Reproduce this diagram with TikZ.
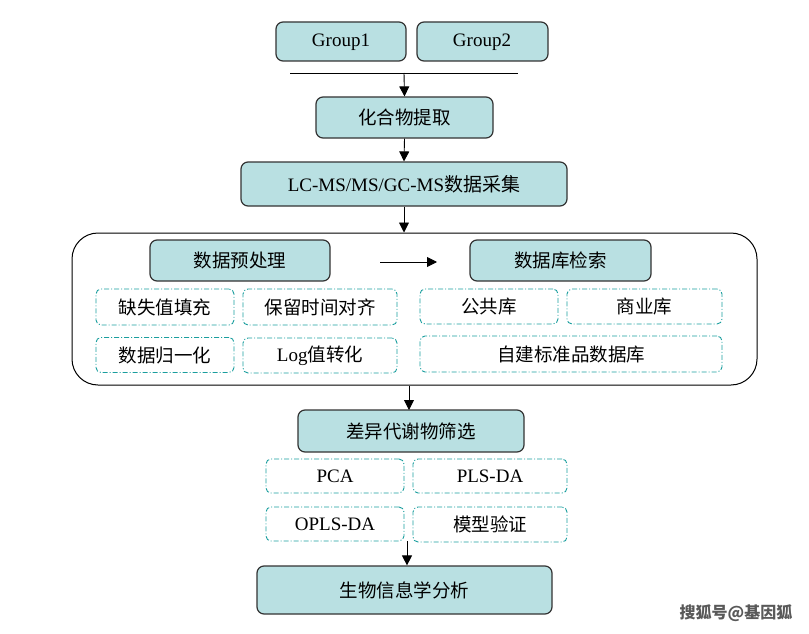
\documentclass[tikz,border=0pt]{standalone}
\usepackage{fontspec}
\setmainfont{Liberation Serif}
\newfontfamily\cjk{Noto Sans CJK SC}
\usetikzlibrary{arrows.meta}
\definecolor{boxfill}{HTML}{B9E0E2}
\definecolor{boxline}{HTML}{333333}
\definecolor{dashc}{HTML}{1A9E9E}
\tikzset{
  mainbox/.style={draw=boxline, line width=1.2pt, fill=boxfill, rounded corners=7pt, inner sep=0pt},
  subbox/.style={draw=dashc, line width=0.9pt, dash pattern=on 5pt off 2pt on 1pt off 2pt, rounded corners=5pt, inner sep=0pt},
  txt/.style={font=\fontsize{18.5}{21}\selectfont\cjk},
  ltxt/.style={font=\fontsize{19}{22}\selectfont},
  arr/.style={-{Triangle[length=10pt,width=10pt]}, line width=0.9pt, black},
}
\begin{document}
\begin{tikzpicture}[x=1pt,y=-1pt]
\useasboundingbox (0,0) rectangle (809,634);
% top groups
\draw[mainbox] (276,22) rectangle (406,61);
\node[ltxt] (g1) at (341,42) {Group1};
\draw[mainbox] (417,22) rectangle (548,61);
\node[ltxt] (g2) at (482,42) {Group2};
\coordinate (hl) at (290,73);
\coordinate (hr) at (518,73);
\coordinate (hm) at (404,73);
\draw[line width=0.9pt] (hl) -- (hr);
% extraction
\node[mainbox, minimum width=177pt, minimum height=41pt] (ext) at (404.5,117.5) {};
\node[txt] at (ext) {化合物提取};
\draw[arr] (hm) -- (ext.north);
% LC-MS
\node[mainbox, minimum width=326pt, minimum height=44pt] (lc) at (404,184) {};
\node[ltxt] at (lc) {LC-MS/MS/GC-MS{\cjk 数据采集}};
\draw[arr] (ext.south) -- (lc.north);
% big container
\node[draw=black, line width=1pt, rounded corners=26pt, minimum width=685pt, minimum height=152pt, inner sep=0pt] (big) at (414.5,309) {};
\draw[arr] (lc.south) -- (lc.south |- big.north);
% preprocessing
\node[mainbox, minimum width=180pt, minimum height=41pt] (pre) at (240,260.5) {};
\node[txt] at (pre) {数据预处理};
\node[mainbox, minimum width=181pt, minimum height=41pt] (db) at (560.5,260.5) {};
\node[txt] at (db) {数据库检索};
\coordinate (a1) at (380,262);
\coordinate (a2) at (437,262);
\draw[arr] (a1) -- (a2);
% preprocessing sub boxes
\node[subbox, minimum width=138pt, minimum height=36pt] (s1) at (165,307) {};
\node[txt] at (s1) {缺失值填充};
\node[subbox, minimum width=154pt, minimum height=36pt] (s2) at (320,307) {};
\node[txt] at (s2) {保留时间对齐};
\node[subbox, minimum width=138pt, minimum height=35pt] (s3) at (165,355) {};
\node[txt] at (s3) {数据归一化};
\node[subbox, minimum width=154pt, minimum height=35pt] (s4) at (320,355.5) {};
\node[ltxt] at (s4) {Log{\cjk\fontsize{18.5}{21}\selectfont 值转化}};
% database sub boxes
\node[subbox, minimum width=138pt, minimum height=35pt] (d1) at (489,306.5) {};
\node[txt] at (d1) {公共库};
\node[subbox, minimum width=155pt, minimum height=35pt] (d2) at (644.5,306.5) {};
\node[txt] at (d2) {商业库};
\node[subbox, minimum width=302pt, minimum height=36pt] (d3) at (571,354) {};
\node[txt] at (d3) {自建标准品数据库};
% differential screening
\node[mainbox, minimum width=226pt, minimum height=42pt] (diff) at (411,431) {};
\node[txt] at (diff) {差异代谢物筛选};
\draw[arr] (big.south -| 409,0) -- (409,410);
% stats sub boxes
\node[subbox, minimum width=138pt, minimum height=34pt] (p1) at (335,476) {};
\node[ltxt] at (p1) {PCA};
\node[subbox, minimum width=154pt, minimum height=34pt] (p2) at (490,476) {};
\node[ltxt] at (p2) {PLS-DA};
\node[subbox, minimum width=138pt, minimum height=34pt] (p3) at (335,524) {};
\node[ltxt] at (p3) {OPLS-DA};
\node[subbox, minimum width=154pt, minimum height=35pt] (p4) at (490,524.5) {};
\node[txt] at (p4) {模型验证};
% bioinformatics
\node[mainbox, minimum width=295pt, minimum height=48pt] (bio) at (404.5,590) {};
\node[txt] at (bio) {生物信息学分析};
\draw[arr] (407,541) -- (bio.north -| 407,0);
% watermark
\node[font=\fontsize{16}{18}\selectfont\cjk\bfseries, text=black!65] (wm) at (736,613) {搜狐号@基因狐};
\end{tikzpicture}
\end{document}
